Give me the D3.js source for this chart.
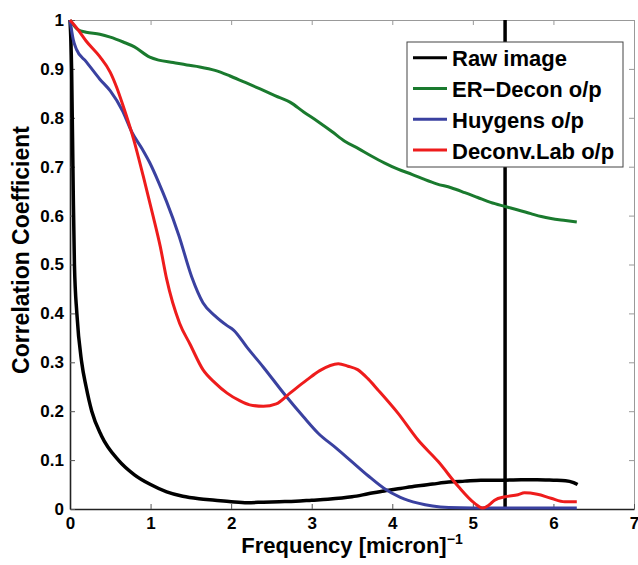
<!DOCTYPE html>
<html>
<head>
<meta charset="utf-8">
<script src="https://cdn.jsdelivr.net/npm/d3@7"></script>
<style>
  body { margin: 0; background: #fff; }
  svg text { font-family: "Liberation Sans", Arial, Helvetica, sans-serif; font-weight: bold; fill: #000; }
</style>
</head>
<body>
<svg width="638" height="565"></svg>
<script>
/* global d3 */

// Series
const rawFreq = [0, 0.02, 0.04, 0.055, 0.085, 0.145, 0.2, 0.27, 0.39, 0.6, 0.8, 1.0, 1.2, 1.4, 1.6, 1.8, 2.0, 2.2, 2.4, 2.6, 2.8, 3.0, 3.2, 3.5, 3.7, 3.9, 4.1, 4.3, 4.5, 4.7, 4.9, 5.1, 5.4, 5.6, 5.8, 6.0, 6.15, 6.25, 6.3];
const rawVal = [1, 0.9, 0.65, 0.5, 0.4, 0.3, 0.25, 0.2, 0.15, 0.1, 0.07, 0.05, 0.035, 0.026, 0.021, 0.018, 0.015, 0.013, 0.014, 0.015, 0.016, 0.018, 0.02, 0.025, 0.031, 0.037, 0.042, 0.047, 0.051, 0.055, 0.057, 0.059, 0.059, 0.06, 0.06, 0.059, 0.058, 0.054, 0.05];

const erFreq = [0, 0.1, 0.2, 0.37, 0.5, 0.66, 0.8, 0.99, 1.1, 1.28, 1.45, 1.61, 1.8, 1.98, 2.15, 2.36, 2.55, 2.73, 2.9, 3.08, 3.25, 3.41, 3.58, 3.74, 3.9, 4.07, 4.25, 4.4, 4.55, 4.73, 4.9, 5.06, 5.22, 5.39, 5.55, 5.72, 5.85, 5.97, 6.15, 6.29];
const erVal = [1, 0.98, 0.975, 0.971, 0.965, 0.955, 0.945, 0.924, 0.918, 0.913, 0.908, 0.904, 0.897, 0.886, 0.874, 0.859, 0.845, 0.832, 0.812, 0.792, 0.772, 0.752, 0.737, 0.722, 0.708, 0.695, 0.684, 0.674, 0.665, 0.657, 0.647, 0.637, 0.627, 0.619, 0.612, 0.604, 0.598, 0.594, 0.59, 0.587];

const huyFreq = [0, 0.04, 0.08, 0.2, 0.37, 0.5, 0.65, 0.77, 0.9, 0.99, 1.1, 1.2, 1.35, 1.51, 1.65, 1.8, 1.95, 2.03, 2.2, 2.4, 2.67, 2.9, 3.08, 3.3, 3.49, 3.7, 3.9, 4.1, 4.32, 4.5, 4.7, 5.0, 5.5, 6.0, 6.29];
const huyVal = [1, 0.96, 0.94, 0.915, 0.879, 0.855, 0.815, 0.77, 0.735, 0.708, 0.668, 0.628, 0.56, 0.475, 0.422, 0.395, 0.375, 0.366, 0.33, 0.29, 0.233, 0.188, 0.155, 0.125, 0.098, 0.068, 0.042, 0.024, 0.012, 0.006, 0.003, 0.002, 0.002, 0.002, 0.002];

const dlFreq = [0, 0.1, 0.2, 0.37, 0.5, 0.58, 0.66, 0.79, 0.91, 1.03, 1.12, 1.2, 1.36, 1.49, 1.65, 1.8, 1.95, 2.1, 2.23, 2.4, 2.56, 2.73, 2.94, 3.1, 3.33, 3.45, 3.57, 3.7, 3.82, 4.07, 4.32, 4.57, 4.82, 5.02, 5.12, 5.2, 5.27, 5.4, 5.56, 5.64, 5.8, 5.97, 6.14, 6.29];
const dlVal = [1, 0.98, 0.957, 0.925, 0.893, 0.862, 0.824, 0.756, 0.68, 0.6, 0.537, 0.47, 0.38, 0.337, 0.285, 0.258, 0.237, 0.222, 0.213, 0.21, 0.215, 0.237, 0.264, 0.283, 0.297, 0.292, 0.285, 0.266, 0.244, 0.196, 0.141, 0.097, 0.046, 0.012, 0.002, 0.008, 0.018, 0.025, 0.029, 0.033, 0.03, 0.022, 0.015, 0.015];

const seriesNames = ['Raw image', 'ER\u2212Decon o/p', 'Huygens o/p', 'Deconv.Lab o/p'];
const seriesColors = ['#000000', '#1a7a2e', '#3a41a0', '#ee1c1c'];
const cutoffFreq = 5.4;

const xTicks = [0, 1, 2, 3, 4, 5, 6, 7];
const xTickLabels = ['0', '1', '2', '3', '4', '5', '6', '7'];
const yTicks = [0, 0.1, 0.2, 0.3, 0.4, 0.5, 0.6, 0.7, 0.8, 0.9, 1];
const yTickLabels = ['0', '0.1', '0.2', '0.3', '0.4', '0.5', '0.6', '0.7', '0.8', '0.9', '1'];

// Layout
const width = 638;
const height = 565;
const margin = { top: 20, right: 4, bottom: 56, left: 70 };
const svg = d3.select('svg');

const x = d3.scaleLinear().domain([0, 7]).range([margin.left, width - margin.right]);
const y = d3.scaleLinear().domain([0, 1]).range([height - margin.bottom, margin.top]);

// Box (top / right, lighter)
svg.append('g')
  .attr('transform', `translate(0, ${margin.top})`)
  .call(d3.axisTop(x).tickValues(xTicks).tickSizeInner(-5).tickSizeOuter(0).tickFormat(''))
  .call((g) => g.selectAll('line, path').attr('stroke', '#999'));

svg.append('g')
  .attr('transform', `translate(${width - margin.right}, 0)`)
  .call(d3.axisRight(y).tickValues(yTicks).tickSizeInner(-5).tickSizeOuter(0).tickFormat(''))
  .call((g) => g.selectAll('line, path').attr('stroke', '#999'));

// Main axes
const xAxis = svg.append('g')
  .attr('transform', `translate(0, ${height - margin.bottom})`)
  .call(d3.axisBottom(x).tickValues(xTicks).tickSizeInner(-5).tickSizeOuter(0).tickPadding(8)
    .tickFormat((d, i) => xTickLabels[i]));

const yAxis = svg.append('g')
  .attr('transform', `translate(${margin.left}, 0)`)
  .call(d3.axisLeft(y).tickValues(yTicks).tickSizeInner(-5).tickSizeOuter(0).tickPadding(6)
    .tickFormat((d, i) => yTickLabels[i]));

[xAxis, yAxis].forEach((g) => {
  g.select('.domain').attr('stroke', '#222').attr('stroke-width', 1.6);
  g.selectAll('.tick line').attr('stroke', '#555');
  g.selectAll('text').style('font-size', '17px');
});

// Axis titles
const xTitle = svg.append('text')
  .attr('x', (margin.left + width - margin.right) / 2)
  .attr('y', 553)
  .style('text-anchor', 'middle')
  .style('font-size', '22px');
xTitle.append('tspan').text('Frequency [micron]');
xTitle.append('tspan').attr('dy', -9).style('font-size', '14px').text('\u22121');

svg.append('text')
  .attr('transform', 'rotate(-90)')
  .attr('x', -250)
  .attr('y', 29)
  .style('text-anchor', 'middle')
  .style('font-size', '23px')
  .text('Correlation Coefficient');

// Curves
const line = d3.line()
  .curve(d3.curveMonotoneX)
  .x((d) => x(d[0]))
  .y((d) => y(d[1]));

const series = [
  d3.zip(rawFreq, rawVal),
  d3.zip(erFreq, erVal),
  d3.zip(huyFreq, huyVal),
  d3.zip(dlFreq, dlVal),
];

// vertical cutoff line
svg.append('line')
  .attr('x1', x(cutoffFreq))
  .attr('x2', x(cutoffFreq))
  .attr('y1', y(0))
  .attr('y2', y(1))
  .attr('stroke', '#000')
  .attr('stroke-width', 3.5);

series.forEach((pts, i) => {
  svg.append('path')
    .datum(pts)
    .attr('fill', 'none')
    .attr('stroke', seriesColors[i])
    .attr('stroke-width', i === 0 ? 3.5 : 3)
    .attr('stroke-linejoin', 'round')
    .attr('d', line);
});

// Legend
const legend = svg.append('g')
  .attr('transform', 'translate(407, 42)');

legend.append('rect')
  .attr('width', 216)
  .attr('height', 125)
  .attr('fill', '#fff')
  .attr('stroke', '#444')
  .attr('stroke-width', 1);

seriesNames.forEach((name, i) => {
  const ly = 15.7 + i * 30.8;
  legend.append('line')
    .attr('x1', 6)
    .attr('x2', 40)
    .attr('y1', ly)
    .attr('y2', ly)
    .attr('stroke', seriesColors[i])
    .attr('stroke-width', 3);
  legend.append('text')
    .attr('x', 45)
    .attr('y', ly + 8.5)
    .style('font-size', '22px')
    .text(name);
});
</script>
</body>
</html>
